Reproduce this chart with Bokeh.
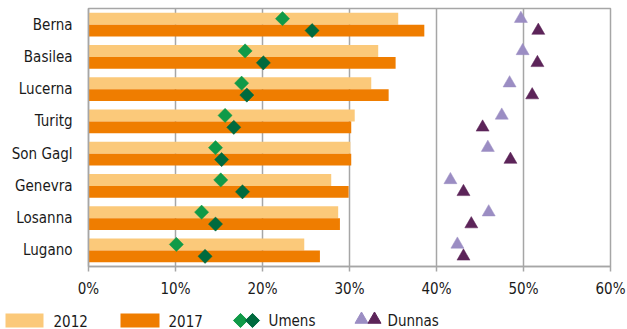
import numpy as np
from bokeh.plotting import figure
from bokeh.models import ColumnDataSource, FixedTicker, Range1d
from bokeh.layouts import column
from bokeh.embed import file_html
from bokeh.resources import INLINE
from bokeh.core.properties import value

# ---------------- data ----------------
cities = ["Berna", "Basilea", "Lucerna", "Turitg", "Son Gagl", "Genevra", "Losanna", "Lugano"]
total_2012 = [35.6, 33.3, 32.5, 30.6, 30.1, 27.9, 28.7, 24.8]
total_2017 = [38.6, 35.3, 34.5, 30.2, 30.2, 29.9, 28.9, 26.6]
umens_2012 = [22.3, 18.0, 17.6, 15.7, 14.6, 15.2, 13.0, 10.1]
umens_2017 = [25.7, 20.1, 18.2, 16.7, 15.3, 17.7, 14.6, 13.4]
dunnas_2012 = [49.7, 49.9, 48.4, 47.5, 45.9, 41.6, 46.0, 42.4]
dunnas_2017 = [51.7, 51.6, 51.0, 45.3, 48.5, 43.1, 44.0, 43.1]
x_ticks = [0, 10, 20, 30, 40, 50, 60]
legend_labels = ["2012", "2017", "Umens", "Dunnas"]

# ---------------- styles ----------------
FONT_NAME = "DejaVu Sans Condensed, Roboto Condensed, Open Sans"
FONT = value(FONT_NAME)
FS = "15px"
C2012 = "#FBC97A"
C2017 = "#EF7D00"
CUM1 = "#109A48"
CUM2 = "#006A3E"
CDU1 = "#9B8DC3"
CDU2 = "#5C2459"
GRID = "#A6A6A6"
TXT = "#1A1A1A"

n = len(cities)
yc = np.array([n - i - 0.5 for i in range(n)])
bh = 0.37
y_top = yc + bh / 2
y_bot = yc - bh / 2

src = ColumnDataSource(dict(
    y_top=y_top, y_bot=y_bot,
    t12=total_2012, t17=total_2017,
    u12=umens_2012, u17=umens_2017,
    d12=dunnas_2012, d17=dunnas_2017,
))

p = figure(width=627, height=300, output_backend="svg", toolbar_location=None,
           x_range=Range1d(0, 60), y_range=Range1d(0, n),
           min_border_left=88, min_border_right=17, min_border_top=8, min_border_bottom=32)
p.frame_align = False
p.outline_line_color = GRID
p.outline_line_width = 1.5

p.hbar(y="y_top", left=0, right="t12", height=bh, fill_color=C2012, line_color=None, source=src)
p.hbar(y="y_bot", left=0, right="t17", height=bh, fill_color=C2017, line_color=None, source=src)

p.scatter(x="u12", y="y_top", marker="square", angle=np.pi / 4, size=10,
          fill_color=CUM1, line_color=CUM1, line_width=0.5, source=src)
p.scatter(x="u17", y="y_bot", marker="square", angle=np.pi / 4, size=10,
          fill_color=CUM2, line_color=CUM2, line_width=0.5, source=src)
p.scatter(x="d12", y="y_top", marker="triangle", size=13,
          fill_color=CDU1, line_color=CDU1, line_width=0.5, source=src)
p.scatter(x="d17", y="y_bot", marker="triangle", size=13,
          fill_color=CDU2, line_color=CDU2, line_width=0.5, source=src)

# grids
p.ygrid.grid_line_color = None
p.xgrid.ticker = FixedTicker(ticks=x_ticks)
p.xgrid.grid_line_color = GRID
p.xgrid.grid_line_width = 1.5

# x axis
p.xaxis.ticker = FixedTicker(ticks=x_ticks)
p.xaxis.major_label_overrides = {t: f"{t}%" for t in x_ticks}
p.xaxis.axis_line_color = GRID
p.xaxis.axis_line_width = 1.5
p.xaxis.major_tick_line_color = GRID
p.xaxis.major_tick_line_width = 1.5
p.xaxis.major_tick_out = 5
p.xaxis.major_tick_in = 0
p.xaxis.minor_tick_line_color = None
p.xaxis.major_label_standoff = 8
p.xaxis.major_label_text_font = FONT_NAME
p.xaxis.major_label_text_font_size = FS
p.xaxis.major_label_text_color = TXT

# y axis
p.yaxis.ticker = FixedTicker(ticks=list(yc))
p.yaxis.major_label_overrides = {float(y): c for y, c in zip(yc, cities)}
p.yaxis.axis_line_color = GRID
p.yaxis.axis_line_width = 1.5
p.yaxis.major_tick_line_color = None
p.yaxis.minor_tick_line_color = None
p.yaxis.major_tick_out = 0
p.yaxis.major_tick_in = 0
p.yaxis.major_label_standoff = 16
p.yaxis.major_label_text_font = FONT_NAME
p.yaxis.major_label_text_font_size = FS
p.yaxis.major_label_text_color = TXT

# ---------------- legend (separate strip) ----------------
lg = figure(width=627, height=29, output_backend="svg", toolbar_location=None,
            x_range=Range1d(0, 627), y_range=Range1d(0, 29),
            min_border=0, min_border_left=0, min_border_right=0,
            min_border_top=0, min_border_bottom=0)
lg.frame_align = False
lg.axis.visible = False
lg.grid.visible = False
lg.outline_line_color = None

ym = 9
lg.quad(left=[5], right=[43], bottom=[ym - 7], top=[ym + 7], fill_color=C2012, line_color=None)
lg.quad(left=[120], right=[159], bottom=[ym - 7], top=[ym + 7], fill_color=C2017, line_color=None)
lg.scatter(x=[240], y=[ym], marker="square", angle=np.pi / 4, size=10, fill_color=CUM1, line_color=CUM1)
lg.scatter(x=[252], y=[ym], marker="square", angle=np.pi / 4, size=10, fill_color=CUM2, line_color=CUM2)
lg.scatter(x=[361], y=[ym + 1], marker="triangle", size=13, fill_color=CDU1, line_color=CDU1)
lg.scatter(x=[374], y=[ym + 1], marker="triangle", size=13, fill_color=CDU2, line_color=CDU2)
lg.text(x=[53, 168, 268, 387], y=[ym] * 4, text=legend_labels,
        text_font=FONT, text_font_size=FS, text_color=TXT,
        text_baseline="middle", text_align="left")

layout = column(p, lg, spacing=0)
open("out.html", "w").write(file_html(layout, INLINE))
